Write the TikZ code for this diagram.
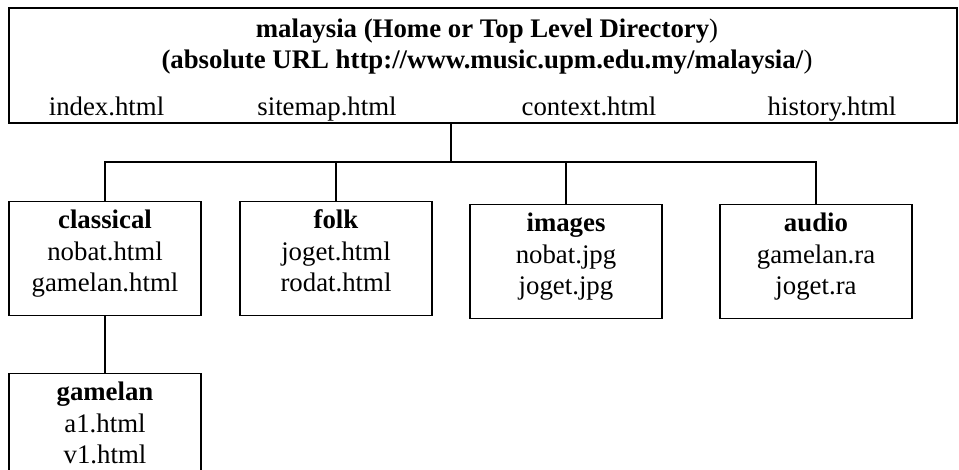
\documentclass[tikz,border=0pt]{standalone}
\usepackage{fontspec}
\setmainfont{Liberation Serif}
\tikzstyle{txt}=[font=\fontsize{26.8}{31.5}\selectfont, inner sep=0pt]
\tikzstyle{head}=[txt, font=\fontsize{26.8}{31}\selectfont\bfseries, align=center]
\tikzstyle{top}=[draw, line width=1.2pt, minimum width=948pt, minimum height=115pt, inner sep=0pt]
\tikzstyle{dir}=[txt, draw, line width=1.2pt, align=center, minimum width=192pt, text height=81pt, text depth=15pt, inner ysep=9pt, anchor=north]
\tikzstyle{link}=[line width=1.2pt]

\begin{document}
\begin{tikzpicture}[x=1pt, y=-1pt]
\useasboundingbox (0, 0) rectangle (959, 469);

\draw (483, 65.5) node [top] (root) {};
\draw (487, 68) node [head, anchor=base] (title) {malaysia (Home or Top Level Directory\textmd{)}\\(absolute URL http://www.music.upm.edu.my/malaysia/\textmd{)}};

\draw (106.5, 115) node [txt, anchor=base] (index) {index.html};
\draw (327, 115) node [txt, anchor=base] (sitemap) {sitemap.html};
\draw (589, 115) node [txt, anchor=base] (context) {context.html};
\draw (832, 115) node [txt, anchor=base] (history) {history.html};

\draw (105, 201) node [dir] (classical) {\textbf{classical}\\nobat.html\\gamelan.html};
\draw (336, 201) node [dir] (folk) {\textbf{folk}\\joget.html\\rodat.html};
\draw (566, 204) node [dir] (images) {\textbf{images}\\nobat.jpg\\joget.jpg};
\draw (816, 204) node [dir] (audio) {\textbf{audio}\\gamelan.ra\\joget.ra};

\draw (105, 373) node [dir] (gamelan) {\textbf{gamelan}\\a1.html\\v1.html};

\coordinate (hub) at (451, 162);
\draw [link] (root.south -| hub) -- (hub);
\draw [link] (classical.north) |- (hub) -| (audio.north);
\draw [link] (folk.north) -- (folk.north |- hub);
\draw [link] (images.north) -- (images.north |- hub);
\draw [link] (classical.south) -- (gamelan.north);

\end{tikzpicture}
\end{document}
